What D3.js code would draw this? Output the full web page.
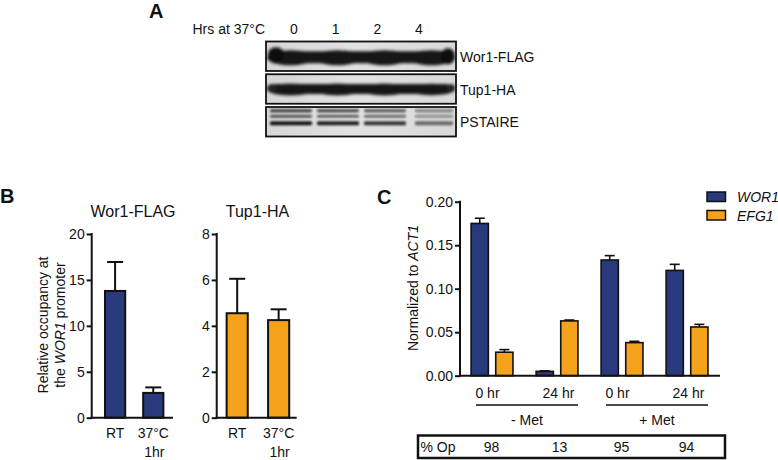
<!DOCTYPE html>
<html>
<head>
<meta charset="utf-8">
<script src="https://cdn.jsdelivr.net/npm/d3@7"></script>
<style>
  html, body { margin: 0; padding: 0; background: #fff; }
  svg { display: block; }
  text { font-family: "Liberation Sans", Arial, Helvetica, sans-serif; fill: #111; }
</style>
</head>
<body>
<svg id="fig" width="778" height="460"></svg>
<script>
// ---------------- data ----------------
// Panel A (western blot)
const blotLanes = ["0", "1", "2", "4"];
const blotRows = ["Wor1-FLAG", "Tup1-HA", "PSTAIRE"];
const wor1FlagBand = [1.0, 1.0, 1.0, 1.0];
const tup1HaBand = [1.0, 1.0, 1.0, 0.95];
const pstaireBand = [1.0, 0.95, 0.85, 0.6];

// Panel B (ChIP)
const bCategories = ["RT", "37°C|1hr"];
const wor1Occupancy = [13.8, 2.7];
const wor1OccupancyErr = [3.15, 0.6];
const wor1Ticks = [0, 5, 10, 15, 20];
const tup1Occupancy = [4.55, 4.25];
const tup1OccupancyErr = [1.5, 0.47];
const tup1Ticks = [0, 2, 4, 6, 8];

// Panel C (expression)
const cGroups = ["-Met 0 hr", "-Met 24 hr", "+Met 0 hr", "+Met 24 hr"];
const cTimeLabels = ["0 hr", "24 hr", "0 hr", "24 hr"];
const cConditions = ["- Met", "+ Met"];
const cSeries = ["WOR1", "EFG1"];
const wor1Expr = [0.175, 0.005, 0.133, 0.121];
const wor1ExprErr = [0.006, 0.0006, 0.005, 0.007];
const efg1Expr = [0.027, 0.063, 0.038, 0.056];
const efg1ExprErr = [0.003, 0.001, 0.0015, 0.003];
const cTicks = [0, 0.05, 0.10, 0.15, 0.20];
const pctOpaque = [98, 13, 95, 94];

const BLUE = "#283a7b";
const ORANGE = "#f4a11c";

const svg = d3.select("#fig");
const defs = svg.append("defs");
defs.append("filter").attr("id", "blur").attr("x", "-20%").attr("y", "-50%").attr("width", "140%").attr("height", "200%")
  .append("feGaussianBlur").attr("stdDeviation", 1.6);
defs.append("filter").attr("id", "blur2").attr("x", "-20%").attr("y", "-50%").attr("width", "140%").attr("height", "200%")
  .append("feGaussianBlur").attr("stdDeviation", 1.0);
const bgGrad = defs.append("linearGradient").attr("id", "bg").attr("x1", 0).attr("x2", 1);
bgGrad.append("stop").attr("offset", "0").attr("stop-color", "#d6d6d6");
bgGrad.append("stop").attr("offset", "0.45").attr("stop-color", "#e2e2e2");
bgGrad.append("stop").attr("offset", "1").attr("stop-color", "#d9d9d9");

// ---------------- panel labels ----------------
function panelLabel(t, x, y) {
  svg.append("text").attr("x", x).attr("y", y).text(t)
    .style("font-size", "20px").style("font-weight", "bold");
}
panelLabel("A", 149, 18);
panelLabel("B", 0, 203);
panelLabel("C", 377, 204);

// ---------------- Panel A ----------------
const laneX = d3.scalePoint().domain(blotLanes).range([294, 419]);
const gelX = d3.scaleBand().domain(blotLanes).range([268, 454]).paddingInner(0.04);
const rowY = d3.scaleBand().domain(blotRows).range([41.5, 136.5]).paddingInner(0.1);
svg.append("text").attr("x", 265).attr("y", 34).attr("text-anchor", "end")
  .style("font-size", "14px").text("Hrs at 37°C");
svg.selectAll(".lane").data(blotLanes).join("text")
  .attr("x", d => laneX(d)).attr("y", 34).attr("text-anchor", "middle")
  .style("font-size", "14px").text(d => d);

const gelL = 266, gelR = 456;
blotRows.forEach((r, ri) => {
  const y0 = rowY(r), h = rowY.bandwidth();
  svg.append("rect").attr("x", gelL).attr("y", y0).attr("width", gelR - gelL).attr("height", h)
    .attr("fill", "url(#bg)");
  const g = svg.append("g").attr("filter", ri === 2 ? "url(#blur2)" : "url(#blur)");
  const cy = y0 + h / 2;
  if (ri === 0) {
    g.append("rect").attr("x", 272).attr("y", cy - 5).attr("width", 178).attr("height", 12).attr("fill", "#141414");
    blotLanes.forEach((l, i) => {
      g.append("ellipse").attr("cx", gelX(l) + gelX.bandwidth() / 2).attr("cy", cy + 1.5)
        .attr("rx", gelX.bandwidth() / 2 + 1).attr("ry", 7.5 * wor1FlagBand[i]).attr("fill", "#121212");
    });
    g.append("ellipse").attr("cx", 276).attr("cy", cy - 2).attr("rx", 8).attr("ry", 7).attr("fill", "#111");
    g.append("ellipse").attr("cx", 448).attr("cy", cy).attr("rx", 7).attr("ry", 8).attr("fill", "#111");
  } else if (ri === 1) {
    g.append("rect").attr("x", 274).attr("y", cy - 5).attr("width", 174).attr("height", 10).attr("fill", "#141414");
    blotLanes.forEach((l, i) => {
      g.append("ellipse").attr("cx", gelX(l) + gelX.bandwidth() / 2).attr("cy", cy + 0.5)
        .attr("rx", gelX.bandwidth() / 2 + 1).attr("ry", 6 * tup1HaBand[i]).attr("fill", "#141414");
    });
    g.append("ellipse").attr("cx", 272).attr("cy", cy - 1).attr("rx", 5).attr("ry", 4).attr("fill", "#222");
    g.append("ellipse").attr("cx", 451).attr("cy", cy - 1).attr("rx", 4).attr("ry", 4).attr("fill", "#222");
  } else {
    const sub = [{dy: -11, t: 2.8, a: 0.8}, {dy: -5.5, t: 2.6, a: 0.75}, {dy: 1.5, t: 4.2, a: 0.97}];
    blotLanes.forEach((l, i) => {
      const inset = i === 3 ? 6 : 2;
      sub.forEach(s => {
        g.append("rect").attr("x", gelX(l) + inset).attr("y", cy + s.dy - s.t / 2)
          .attr("width", gelX.bandwidth() - inset - 1).attr("height", s.t).attr("rx", 1.5)
          .attr("fill", "#111").attr("opacity", s.a * pstaireBand[i]);
      });
    });
  }
  svg.append("rect").attr("x", gelL).attr("y", y0).attr("width", gelR - gelL).attr("height", h)
    .attr("fill", "none").attr("stroke", "#111").attr("stroke-width", 1.8);
  svg.append("text").attr("x", 460).attr("y", cy + 5.5).style("font-size", "14px").text(r);
});

// ---------------- Panel B ----------------
function chipChart(opts) {
  const {x0, x1, yMax, ticks, vals, errs, color, title, titleX, pIn, pOut, align} = opts;
  const yTop = 234, yBot = 417.7;
  const y = d3.scaleLinear().domain([0, yMax]).range([yBot, yTop]);
  const x = d3.scaleBand().domain(bCategories).range([x0, x1]).paddingInner(pIn).paddingOuter(pOut).align(align);
  const g = svg.append("g");
  g.selectAll("rect.bar").data(bCategories).join("rect")
    .attr("x", d => x(d)).attr("width", x.bandwidth())
    .attr("y", (d, i) => y(vals[i])).attr("height", (d, i) => yBot - y(vals[i]))
    .attr("fill", color).attr("stroke", "#111").attr("stroke-width", 2);
  bCategories.forEach((d, i) => {
    const cx = x(d) + x.bandwidth() / 2;
    g.append("line").attr("x1", cx).attr("x2", cx).attr("y1", y(vals[i])).attr("y2", y(vals[i] + errs[i]))
      .attr("stroke", "#111").attr("stroke-width", 2);
    g.append("line").attr("x1", cx - 8).attr("x2", cx + 8).attr("y1", y(vals[i] + errs[i])).attr("y2", y(vals[i] + errs[i]))
      .attr("stroke", "#111").attr("stroke-width", 2);
  });
  const ax = g.append("g").attr("transform", `translate(${x0},0)`)
    .call(d3.axisLeft(y).tickValues(ticks).tickSize(5).tickPadding(2).tickFormat(d3.format("d")));
  ax.select(".domain").remove();
  ax.selectAll(".tick line").attr("stroke", "#111").attr("stroke-width", 2);
  ax.selectAll(".tick text").style("font-size", "14px").style("font-family", "Liberation Sans, Arial, sans-serif").attr("fill", "#111");
  g.append("line").attr("x1", x0).attr("x2", x0).attr("y1", yTop - 1).attr("y2", yBot + 1).attr("stroke", "#111").attr("stroke-width", 2);
  g.append("line").attr("x1", x0 - 1).attr("x2", x1).attr("y1", yBot).attr("y2", yBot).attr("stroke", "#111").attr("stroke-width", 2);
  bCategories.forEach(d => {
    const parts = d.split("|");
    const t = g.append("text").attr("text-anchor", "middle").attr("y", 438).style("font-size", "14px");
    parts.forEach((p, k) => {
      t.append("tspan").attr("x", x(d) + x.bandwidth() / 2 + (k === 1 ? 1 : 0)).attr("dy", k === 0 ? 0 : 18.5).text(p);
    });
  });
  svg.append("text").attr("x", titleX).attr("y", 216.5).attr("text-anchor", "middle")
    .style("font-size", "16px").text(title);
}
chipChart({x0: 91.7, x1: 173, yMax: 20, ticks: wor1Ticks, vals: wor1Occupancy, errs: wor1OccupancyErr,
  color: BLUE, title: "Wor1-FLAG", titleX: 133, pIn: 0.47, pOut: 0.3, align: 0.58});
chipChart({x0: 216.7, x1: 296.7, yMax: 8, ticks: tup1Ticks, vals: tup1Occupancy, errs: tup1OccupancyErr,
  color: ORANGE, title: "Tup1-HA", titleX: 257.5, pIn: 0.49, pOut: 0.21, align: 0.57});

const yl = svg.append("text").attr("transform", "translate(48,325) rotate(-90)").attr("text-anchor", "middle")
  .style("font-size", "14px");
yl.append("tspan").attr("x", 0).attr("dy", 0).text("Relative occupancy at");
const l2 = yl.append("tspan").attr("x", 0).attr("dy", 17);
l2.append("tspan").text("the ");
l2.append("tspan").style("font-style", "italic").text("WOR1");
l2.append("tspan").text(" promoter");

// ---------------- Panel C ----------------
{
  const xL = 460, xR = 720, yTop = 201.7, yBot = 375.7;
  const y = d3.scaleLinear().domain([0, 0.2]).range([yBot, yTop]);
  const x0 = d3.scaleBand().domain(cGroups).range([xL, xR]);
  const x1 = d3.scaleBand().domain(cSeries).range([0, x0.bandwidth()]).paddingInner(0.3).paddingOuter(0.47).align(0.48);
  const seriesVals = {WOR1: wor1Expr, EFG1: efg1Expr};
  const seriesErr = {WOR1: wor1ExprErr, EFG1: efg1ExprErr};
  const seriesCol = {WOR1: BLUE, EFG1: ORANGE};
  const g = svg.append("g");
  cSeries.forEach(s => {
    cGroups.forEach((grp, i) => {
      const v = seriesVals[s][i], e = seriesErr[s][i];
      const bx = x0(grp) + x1(s);
      g.append("rect").attr("x", bx).attr("width", x1.bandwidth()).attr("y", y(v)).attr("height", yBot - y(v))
        .attr("fill", seriesCol[s]).attr("stroke", "#111").attr("stroke-width", 1.6);
      const cx = bx + x1.bandwidth() / 2;
      g.append("line").attr("x1", cx).attr("x2", cx).attr("y1", y(v)).attr("y2", y(v + e))
        .attr("stroke", "#111").attr("stroke-width", 1.6);
      g.append("line").attr("x1", cx - 5).attr("x2", cx + 5).attr("y1", y(v + e)).attr("y2", y(v + e))
        .attr("stroke", "#111").attr("stroke-width", 1.6);
    });
  });
  const ax = g.append("g").attr("transform", `translate(${xL},0)`)
    .call(d3.axisLeft(y).tickValues(cTicks).tickSize(5).tickPadding(2).tickFormat(d3.format(".2f")));
  ax.select(".domain").remove();
  ax.selectAll(".tick line").attr("stroke", "#111").attr("stroke-width", 2);
  ax.selectAll(".tick text").style("font-size", "14px").style("font-family", "Liberation Sans, Arial, sans-serif").attr("fill", "#111");
  g.append("line").attr("x1", xL).attr("x2", xL).attr("y1", yTop - 1).attr("y2", yBot + 1).attr("stroke", "#111").attr("stroke-width", 2);
  g.append("line").attr("x1", xL - 1).attr("x2", xR).attr("y1", yBot).attr("y2", yBot).attr("stroke", "#111").attr("stroke-width", 2);

  cGroups.forEach((grp, i) => {
    g.append("text").attr("x", x0(grp) + x0.bandwidth() / 2 + (i % 2 === 0 ? -5 : 1)).attr("y", 398)
      .attr("text-anchor", "middle").style("font-size", "14px").text(cTimeLabels[i]);
  });
  cConditions.forEach((c, k) => {
    const gs = x0(cGroups[2 * k]), ge = x0(cGroups[2 * k + 1]) + x0.bandwidth();
    g.append("line").attr("x1", gs + 16).attr("x2", ge - 12).attr("y1", 405).attr("y2", 405)
      .attr("stroke", "#111").attr("stroke-width", 1.4);
    g.append("text").attr("x", (gs + 16 + ge - 12) / 2).attr("y", 425).attr("text-anchor", "middle")
      .style("font-size", "14px").text(c);
  });
  g.append("rect").attr("x", 418).attr("y", 435.5).attr("width", 307).attr("height", 22.5)
    .attr("fill", "none").attr("stroke", "#111").attr("stroke-width", 2.5);
  g.append("text").attr("x", 420.5).attr("y", 452).style("font-size", "14px").text("% Op");
  cGroups.forEach((grp, i) => {
    g.append("text").attr("x", x0(grp) + x0.bandwidth() / 2 + [-1, 2, -1, -1][i]).attr("y", 452)
      .attr("text-anchor", "middle").style("font-size", "14px").text(pctOpaque[i]);
  });
  const t = svg.append("text").attr("transform", "translate(418,288) rotate(-90)").attr("text-anchor", "middle")
    .style("font-size", "14px");
  t.append("tspan").text("Normalized to ");
  t.append("tspan").style("font-style", "italic").text("ACT1");
  cSeries.forEach((s, i) => {
    svg.append("rect").attr("x", 707).attr("y", 192 + i * 18.5).attr("width", 18.5).attr("height", 9.5)
      .attr("fill", seriesCol[s]).attr("stroke", "#111").attr("stroke-width", 1.5);
    svg.append("text").attr("x", 737).attr("y", 202 + i * 18.5).style("font-size", "14px")
      .style("font-style", "italic").text(s);
  });
}
</script>
</body>
</html>
